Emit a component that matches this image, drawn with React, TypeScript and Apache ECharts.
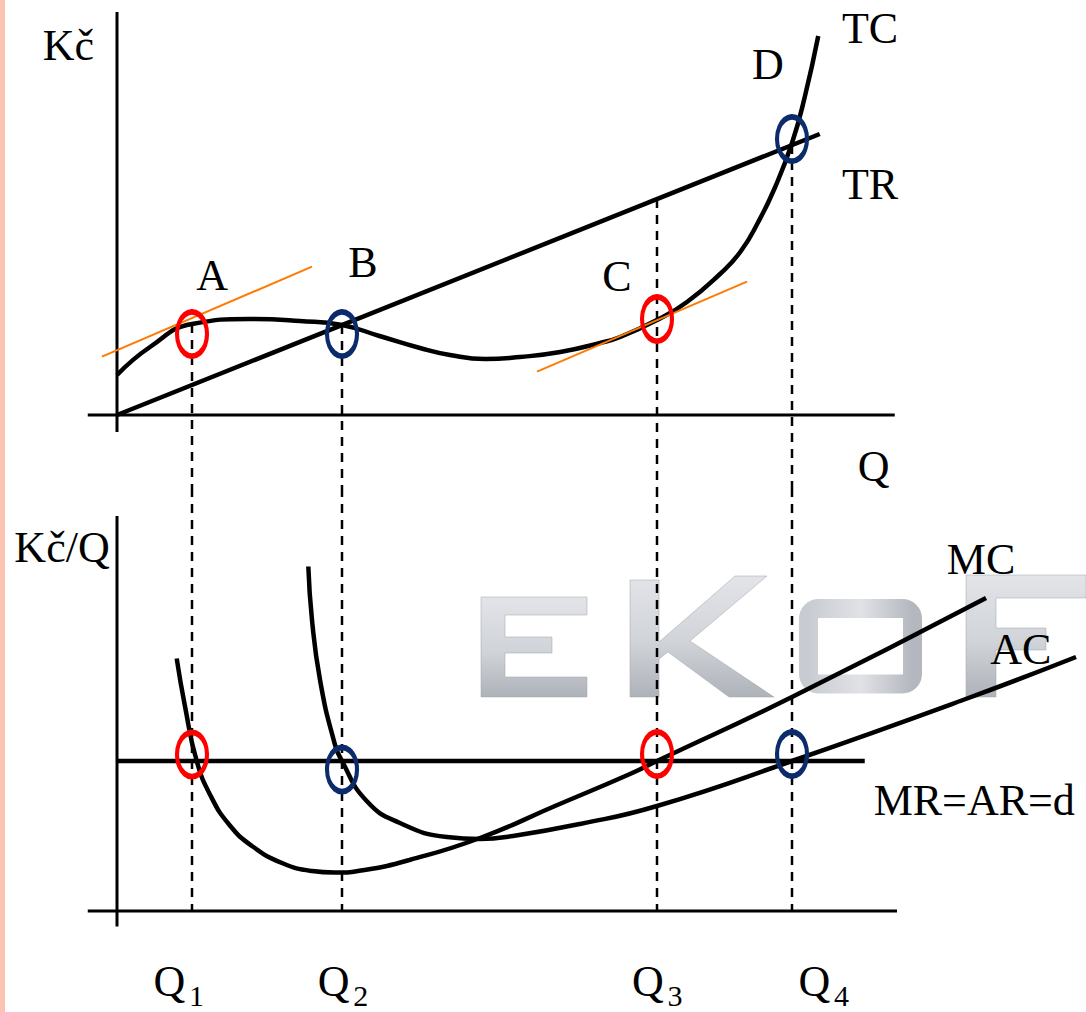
import React, { useEffect, useRef } from "react";
import * as echarts from "echarts";

// ---- quantity marks on the Q axis ----
const qMarks = [1.0, 3.0, 7.2, 9.0];
const qSubscripts = ["1", "2", "3", "4"];
const qLabelX = [0.7, 2.89, 7.08, 9.3];
const qLabelY = -1.4;

// ---- upper panel: total values (Kč) ----
const tcCurve: number[][] = [
  [0, 4.0], [0.44, 6.8], [1.0, 9.1], [1.77, 9.6], [2.44, 9.4], [3.0, 9.0],
  [3.5, 7.9], [4.04, 6.7], [4.44, 6.0], [4.91, 5.6], [5.37, 5.8], [5.91, 6.3],
  [6.44, 7.2], [6.71, 7.8], [7.2, 9.5], [7.6, 11.3], [8.04, 14.1], [8.31, 16.3],
  [8.55, 19.3], [8.77, 22.7], [9.0, 27.2], [9.17, 31.8], [9.35, 37.9],
];
const trLine: number[][] = [[0, 0], [9.37, 28.1]];
const tangentA: number[][] = [[-0.2, 5.83], [2.6, 14.83]];
const tangentC: number[][] = [[5.6, 4.33], [8.4, 13.33]];
const topGuideFrom = [9.1, 9.0, 21.6, 27.0];
const topRings: number[][] = [[1.0, 8.1], [3.0, 8.1], [7.2, 9.6], [9.0, 27.6]];
const topAxisX: number[][] = [[-0.39, 0], [10.37, 0]];
const topAxisY: number[][] = [[0, -1.7], [0, 40.3]];
const topTexts: [string, number, number][] = [
  ["Kč", -0.647, 37.0], ["TC", 10.04, 38.7], ["D", 8.68, 35.1], ["TR", 10.04, 23.1],
  ["A", 1.267, 14.0], ["B", 3.28, 15.3], ["C", 6.667, 13.9], ["Q", 10.09, -5.1],
];

// ---- lower panel: per-unit values (Kč/Q) ----
const mcCurve: number[][] = [
  [0.796, 5.05], [0.907, 4.09], [1.063, 3.0], [1.25, 2.3], [1.5, 1.72], [1.8, 1.3],
  [2.2, 0.96], [2.6, 0.8], [2.9, 0.77], [3.3, 0.82], [3.9, 1.02], [4.84, 1.46],
  [5.84, 2.1], [6.84, 2.74], [7.2, 3.0], [9.0, 4.28], [11.587, 6.26],
];
const acCurve: number[][] = [
  [2.551, 6.89], [2.6, 5.82], [2.707, 4.62], [2.884, 3.45], [3.0, 3.0],
  [3.329, 2.2], [3.773, 1.76], [4.4, 1.48], [4.84, 1.44], [5.28, 1.5],
  [6.173, 1.74], [7.2, 2.1], [9.0, 3.0], [11.28, 4.22], [12.787, 5.08],
];
const mrLine: number[][] = [[0, 3.0], [9.97, 3.0]];
const bottomRings: number[][] = [[1.0, 3.13], [3.0, 2.83], [7.2, 3.14], [9.0, 3.14]];
const bottomAxisX: number[][] = [[-0.39, 0], [10.4, 0]];
const bottomAxisY: number[][] = [[0, -0.31], [0, 7.9]];
const bottomTexts: [string, number, number][] = [
  ["Kč/Q", -0.733, 7.28], ["MC", 11.52, 7.04], ["AC", 12.05, 5.24], ["MR=AR=d", 11.43, 2.22],
];

const ringColors = ["#ff0000", "#0c2b6b", "#ff0000", "#0c2b6b"];

const X_MIN = -1.56;
const X_MAX = 12.92;
const TOP_MIN = -7.3;
const TOP_MAX = 41.5;
const BOT_MIN = -2.02;
const BOT_MAX = 8.46;

const FONT = "'Liberation Serif', 'DejaVu Serif', serif";

function solid(data: number[][], idx: number, width: number, color = "#000", z = 3) {
  return {
    type: "line",
    xAxisIndex: idx,
    yAxisIndex: idx,
    data,
    symbol: "none",
    silent: true,
    z,
    lineStyle: { color, width, cap: "butt", opacity: 1 },
  };
}

function curve(data: number[][], idx: number) {
  return {
    ...solid(data, idx, 4.5),
    smooth: 0.5,
  };
}

function dashed(data: number[][], idx: number) {
  return {
    type: "line",
    xAxisIndex: idx,
    yAxisIndex: idx,
    data,
    symbol: "none",
    silent: true,
    z: 2,
    lineStyle: { color: "#000", width: 2.5, type: [9, 7] },
  };
}

function rings(points: number[][], idx: number) {
  return {
    type: "scatter",
    xAxisIndex: idx,
    yAxisIndex: idx,
    silent: true,
    z: 5,
    symbol: "circle",
    symbolSize: [30, 44],
    itemStyle: { opacity: 1 },
    data: points.map((p, i) => ({
      value: p,
      itemStyle: {
        color: "rgba(0,0,0,0)",
        borderColor: ringColors[i],
        borderWidth: 5,
        opacity: 1,
      },
    })),
  };
}

function texts(items: [string, number, number][], idx: number, size = 44, offset = [0, 0]) {
  return {
    type: "scatter",
    xAxisIndex: idx,
    yAxisIndex: idx,
    silent: true,
    z: 6,
    symbol: "circle",
    symbolSize: 1,
    itemStyle: { color: "rgba(0,0,0,0)" },
    data: items.map((t) => ({ value: [t[1], t[2]], name: t[0] })),
    label: {
      show: true,
      position: "inside",
      offset,
      formatter: (p: any) => p.name,
      color: "#000",
      opacity: 1,
      fontFamily: FONT,
      fontSize: size,
      align: "center",
      verticalAlign: "middle",
    },
  };
}

function watermark() {
  const fill = new echarts.graphic.LinearGradient(0, 0, 0, 1, [
    { offset: 0, color: "#e2e4e8" },
    { offset: 0.55, color: "#d0d3d8" },
    { offset: 1, color: "#aeb2b9" },
  ]);
  const side = new echarts.graphic.LinearGradient(0, 0, 1, 0, [
    { offset: 0, color: "#c8cbd1" },
    { offset: 0.5, color: "#e0e2e6" },
    { offset: 1, color: "#b4b7be" },
  ]);
  const letterStyle = { fill, stroke: "rgba(160,164,172,0.5)", lineWidth: 1 };
  return [
    { type: "rect", silent: true, z: -10, shape: { x: 0, y: 0, width: 5, height: 1012 }, style: { fill: "#fcc3b2" } },
    {
      type: "polygon", silent: true, z: -10,
      shape: { points: [[481, 597], [587, 597], [587, 615], [505, 615], [505, 637], [552, 637], [552, 653], [505, 653], [505, 677], [587, 677], [587, 697], [481, 697]] },
      style: letterStyle,
    },
    {
      type: "polygon", silent: true, z: -10,
      shape: { points: [[630, 580], [659, 580], [659, 642], [735, 576], [767, 576], [690, 641], [774, 697], [729, 697], [668, 652], [659, 659], [659, 697], [630, 697]] },
      style: letterStyle,
    },
    {
      type: "rect", silent: true, z: -10,
      shape: { x: 808.5, y: 608.5, width: 104, height: 75.5, r: 10 },
      style: { fill: "none", stroke: side, lineWidth: 19 },
    },
    {
      type: "polygon", silent: true, z: -10,
      shape: { points: [[966, 575], [1086, 575], [1086, 598], [996, 598], [996, 628], [1046, 628], [1046, 650], [996, 650], [996, 697], [966, 697]] },
      style: letterStyle,
    },
  ];
}

export default function App() {
  const ref = useRef<HTMLDivElement>(null);

  useEffect(() => {
    if (!ref.current) return;
    const chart = echarts.init(ref.current, undefined, { renderer: "svg" });

    const series: any[] = [
      // axes
      solid(topAxisX, 0, 3), solid(topAxisY, 0, 3),
      solid(bottomAxisX, 1, 3), solid(bottomAxisY, 1, 3),
      // guides from the curves down to the Q axis
      ...qMarks.map((q, i) => dashed([[q, topGuideFrom[i]], [q, TOP_MIN]], 0)),
      ...qMarks.map((q) => dashed([[q, BOT_MAX], [q, 0]], 1)),
      // totals
      solid(trLine, 0, 4.5),
      curve(tcCurve, 0),
      solid(tangentA, 0, 2, "#ff7a00", 4),
      solid(tangentC, 0, 2, "#ff7a00", 4),
      rings(topRings, 0),
      // per-unit values
      solid(mrLine, 1, 4.5),
      curve(mcCurve, 1),
      curve(acCurve, 1),
      rings(bottomRings, 1),
      // labels
      texts(topTexts, 0),
      texts(bottomTexts, 1),
      texts(qLabelX.map((x) => ["Q", x, qLabelY] as [string, number, number]), 1),
      texts(qLabelX.map((x, i) => [qSubscripts[i], x, qLabelY] as [string, number, number]), 1, 30, [27, 14]),
    ];

    chart.setOption({
      animation: false,
      backgroundColor: "#ffffff",
      grid: [
        { left: 0, top: 0, width: 1086, height: 488 },
        { left: 0, top: 488, width: 1086, height: 524 },
      ],
      xAxis: [
        { type: "value", gridIndex: 0, min: X_MIN, max: X_MAX, show: false },
        { type: "value", gridIndex: 1, min: X_MIN, max: X_MAX, show: false },
      ],
      yAxis: [
        { type: "value", gridIndex: 0, min: TOP_MIN, max: TOP_MAX, show: false },
        { type: "value", gridIndex: 1, min: BOT_MIN, max: BOT_MAX, show: false },
      ],
      graphic: watermark(),
      series,
    });

    return () => chart.dispose();
  }, []);

  return (
    <div
      ref={ref}
      style={{ position: "absolute", left: 0, top: 0, width: 1086, height: 1012, background: "#fff" }}
    />
  );
}
